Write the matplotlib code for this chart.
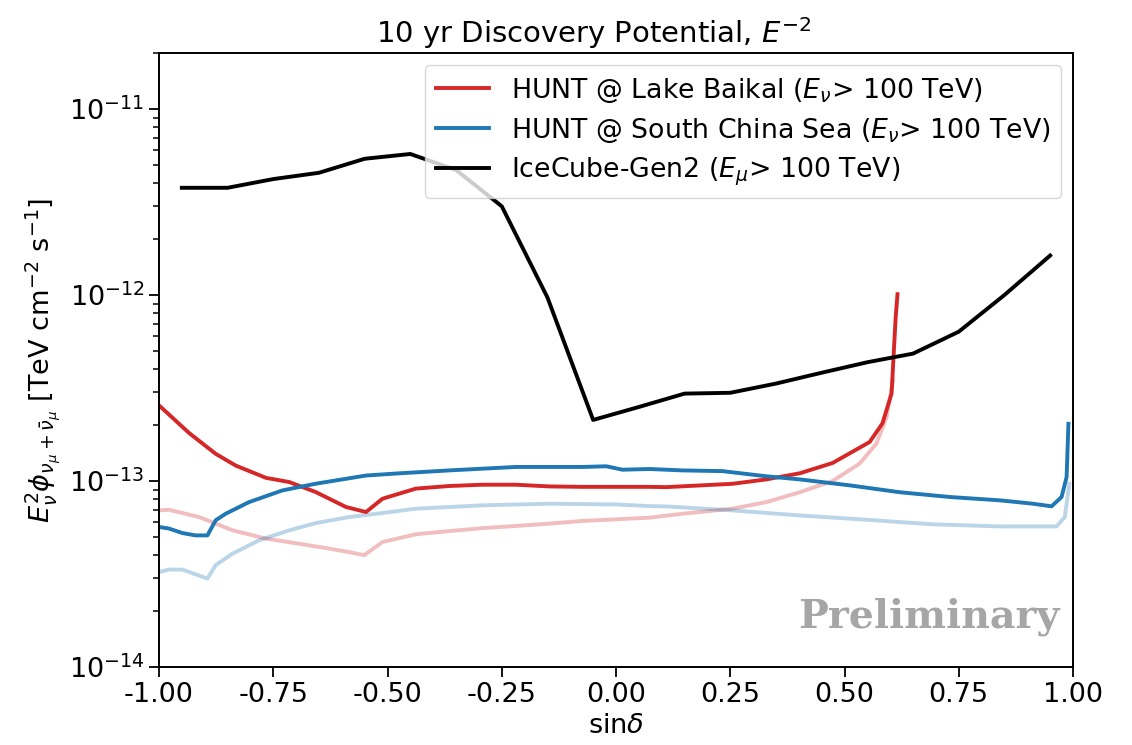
import numpy as np
import matplotlib
matplotlib.use('Agg')
import matplotlib.pyplot as plt
from matplotlib.ticker import NullFormatter

# IceCube-Gen2 (E_mu > 100 TeV)
icecube_x = [-0.95, -0.85, -0.75, -0.65, -0.55, -0.45, -0.35, -0.25, -0.15, -0.05,
             0.05, 0.15, 0.25, 0.35, 0.45, 0.55, 0.65, 0.75, 0.85, 0.95]
icecube_y = [3.77e-12, 3.77e-12, 4.2e-12, 4.54e-12, 5.4e-12, 5.73e-12, 4.7e-12, 3.0e-12, 9.7e-13, 2.13e-13,
             2.5e-13, 2.95e-13, 2.98e-13, 3.34e-13, 3.82e-13, 4.35e-13, 4.84e-13, 6.35e-13, 1.0e-12, 1.63e-12]

# HUNT @ Lake Baikal
baikal_x = [-1.0, -0.934, -0.876, -0.832, -0.766, -0.715, -0.657, -0.591, -0.547, -0.511,
            -0.438, -0.365, -0.292, -0.219, -0.146, -0.073, 0.073, 0.110, 0.255, 0.329,
            0.402, 0.474, 0.555, 0.583, 0.603, 0.608, 0.612, 0.616]
baikal_y = [2.55e-13, 1.81e-13, 1.40e-13, 1.21e-13, 1.04e-13, 9.87e-14, 8.72e-14, 7.25e-14, 6.81e-14, 8.03e-14,
            9.1e-14, 9.4e-14, 9.55e-14, 9.55e-14, 9.35e-14, 9.3e-14, 9.3e-14, 9.27e-14, 9.66e-14, 1.02e-13,
            1.10e-13, 1.25e-13, 1.62e-13, 2.04e-13, 2.95e-13, 5.0e-13, 7.6e-13, 1.01e-12]

# HUNT @ Lake Baikal, faded curve
baikal2_x = [-1.0, -0.978, -0.912, -0.839, -0.766, -0.693, -0.635, -0.584, -0.551, -0.511,
             -0.438, -0.365, -0.292, -0.219, -0.146, -0.073, 0.073, 0.146, 0.255, 0.329,
             0.402, 0.474, 0.533, 0.570, 0.592, 0.606]
baikal2_y = [6.95e-14, 7.0e-14, 6.4e-14, 5.43e-14, 4.9e-14, 4.6e-14, 4.36e-14, 4.15e-14, 3.99e-14, 4.7e-14,
             5.17e-14, 5.38e-14, 5.58e-14, 5.73e-14, 5.9e-14, 6.1e-14, 6.35e-14, 6.67e-14, 7.1e-14, 7.7e-14,
             8.7e-14, 1.0e-13, 1.24e-13, 1.59e-13, 2.2e-13, 3.47e-13]

# HUNT @ South China Sea
scs_x = [-1.0, -0.978, -0.949, -0.920, -0.894, -0.876, -0.854, -0.803, -0.730, -0.657,
         -0.547, -0.474, -0.365, -0.219, -0.073, -0.021, 0.014, 0.073, 0.146, 0.233,
         0.329, 0.402, 0.512, 0.621, 0.731, 0.840, 0.912, 0.953, 0.975, 0.986, 0.990]
scs_y = [5.66e-14, 5.55e-14, 5.25e-14, 5.1e-14, 5.1e-14, 6.15e-14, 6.67e-14, 7.7e-14, 8.9e-14, 9.67e-14,
         1.07e-13, 1.10e-13, 1.14e-13, 1.19e-13, 1.19e-13, 1.20e-13, 1.15e-13, 1.16e-13, 1.14e-13, 1.13e-13,
         1.06e-13, 1.02e-13, 9.47e-14, 8.7e-14, 8.2e-14, 7.87e-14, 7.55e-14, 7.31e-14, 8.2e-14, 1.05e-13, 2.03e-13]

# HUNT @ South China Sea, faded curve
scs2_x = [-1.0, -0.978, -0.949, -0.894, -0.876, -0.839, -0.781, -0.715, -0.657, -0.584,
          -0.511, -0.438, -0.292, -0.146, 0.0, 0.073, 0.110, 0.255, 0.402, 0.548,
          0.693, 0.840, 0.964, 0.982, 0.992]
scs2_y = [3.24e-14, 3.34e-14, 3.34e-14, 2.99e-14, 3.53e-14, 4.07e-14, 4.8e-14, 5.43e-14, 5.94e-14, 6.4e-14,
          6.73e-14, 7.1e-14, 7.4e-14, 7.55e-14, 7.48e-14, 7.33e-14, 7.3e-14, 6.95e-14, 6.53e-14, 6.19e-14,
          5.85e-14, 5.7e-14, 5.7e-14, 6.4e-14, 9.66e-14]

xticks = [-1.0, -0.75, -0.5, -0.25, 0.0, 0.25, 0.5, 0.75, 1.0]
yticks = [1e-14, 1e-13, 1e-12, 1e-11]

fs = 19.5
plt.rcParams['font.size'] = fs

fig = plt.figure(figsize=(11.32, 7.45), dpi=100)
ax = fig.add_axes([159 / 1132, 78 / 745, 914 / 1132, 614 / 745])

lw = 2.8
ax.plot(baikal2_x, baikal2_y, color='tab:red', lw=lw, alpha=0.3)
ax.plot(scs2_x, scs2_y, color='tab:blue', lw=lw, alpha=0.3)
ax.plot(baikal_x, baikal_y, color='tab:red', lw=lw, label=r'HUNT @ Lake Baikal ($E_\nu$> 100 TeV)')
ax.plot(scs_x, scs_y, color='tab:blue', lw=lw, label=r'HUNT @ South China Sea ($E_\nu$> 100 TeV)')
ax.plot(icecube_x, icecube_y, color='black', lw=lw, label=r'IceCube-Gen2 ($E_\mu$> 100 TeV)')

ax.set_yscale('log')
ax.set_xlim(-1, 1)
ax.set_ylim(1e-14, 2e-11)
ax.set_yticks(yticks)
ax.yaxis.set_minor_formatter(NullFormatter())
ax.set_xticks(xticks)
ax.set_xticklabels(['%.2f' % v for v in xticks])
ax.tick_params(axis='both', which='major', labelsize=fs, length=7, width=1.3)
ax.tick_params(axis='y', which='minor', length=4, width=1.1)
for s in ax.spines.values():
    s.set_linewidth(1.4)

ax.set_xlabel(r'sin$\delta$', fontsize=fs, labelpad=4)
ax.set_ylabel(r'$E_\nu^2\phi_{\nu_\mu+\bar{\nu}_\mu}$ [TeV cm$^{-2}$ s$^{-1}$]', fontsize=fs)
ax.set_title(r'10 yr Discovery Potential, $E^{-2}$', fontsize=21, pad=7, x=0.476)

ax.legend(loc='upper right', fontsize=19.3, handlelength=2.0, borderaxespad=0.45,
          labelspacing=0.4)

ax.text(0.985, 0.05, 'Preliminary', transform=ax.transAxes, ha='right', va='bottom',
        fontsize=28.5, fontweight='bold', family='DejaVu Serif', color='#a6a6a6')

plt.savefig('out.png', dpi=100)
